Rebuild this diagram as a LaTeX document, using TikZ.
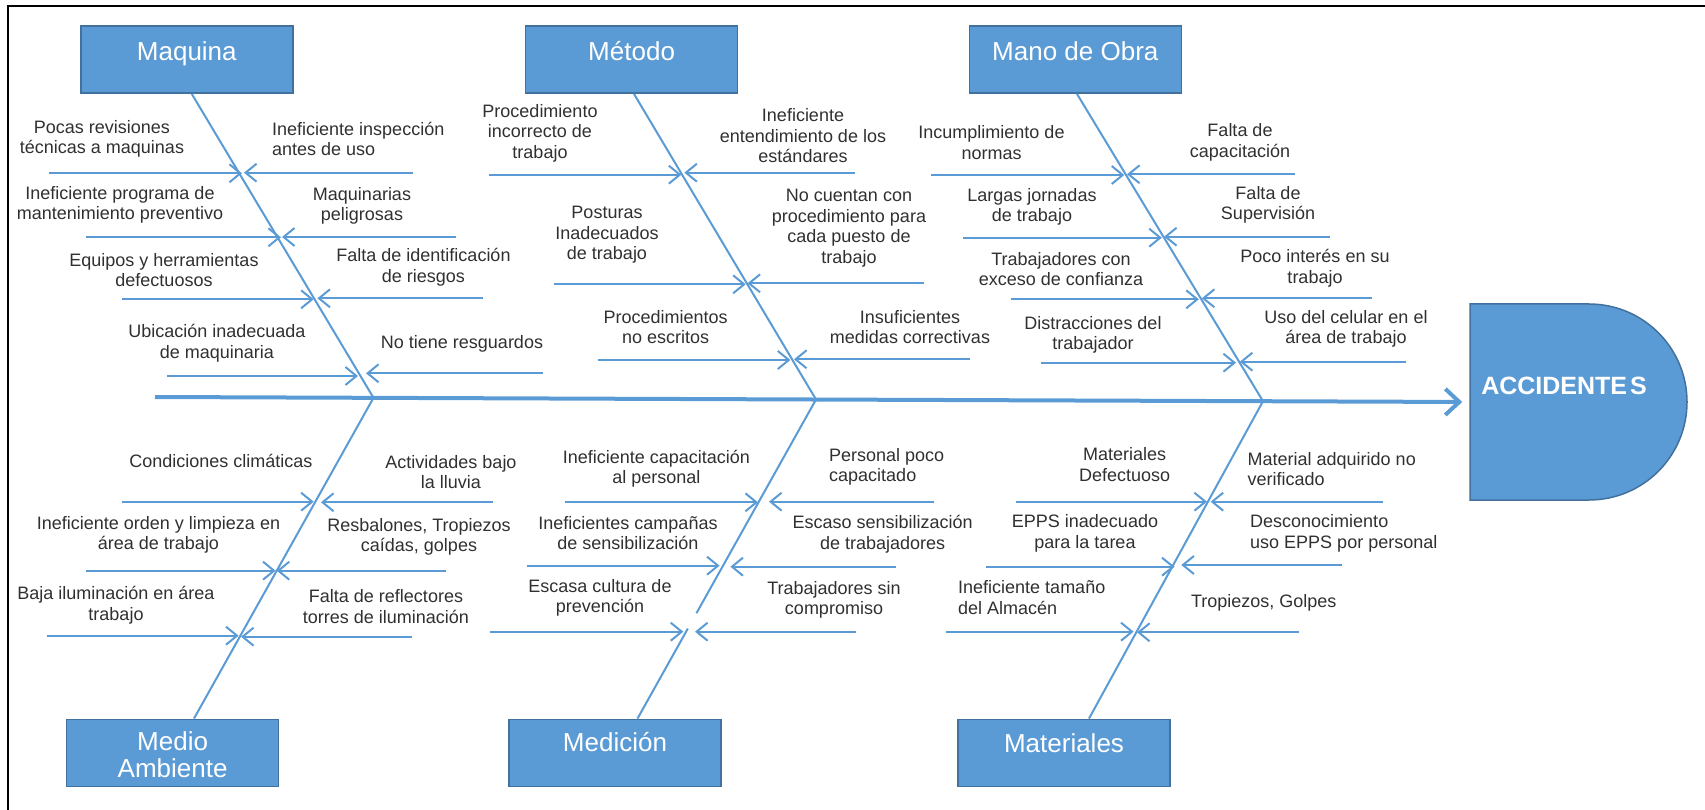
\documentclass[tikz,border=0pt]{standalone}
\usepackage{fontspec}
\setmainfont{Liberation Sans}
\usetikzlibrary{arrows.meta,shapes.misc,calc}
\definecolor{fb}{HTML}{5B9BD5}
\definecolor{fbd}{HTML}{41719C}
\definecolor{txt}{HTML}{303030}
\tikzset{
 catbox/.style={draw=fbd, fill=fb, line width=1.5pt, minimum width=212pt, minimum height=67pt, inner sep=0pt},
 cattitle/.style={text=white, font=\fontsize{26}{27}\selectfont, align=center, inner sep=0pt},
 lbl/.style={text=txt, font=\fontsize{18}{20.5}\selectfont, align=center, inner sep=0pt},
 lbll/.style={lbl, align=left, anchor=west},
 bone/.style={draw=fb, line width=2pt},
 sub/.style={draw=fb, line width=2pt, -{Straight Barb[length=11pt,width=18pt]}},
 spine/.style={draw=fb, line width=4pt, -{Straight Barb[length=14pt,width=26pt]}},
}
\newcommand{\subarr}[4]{\coordinate (#1a) at (#2,#4); \coordinate (#1b) at (#3,#4); \draw[sub] (#1a) -- (#1b);}
\begin{document}
\begin{tikzpicture}[x=1pt,y=-1pt]
\useasboundingbox (0,0) rectangle (1705,810);
\draw[line width=2.5pt] (8,810) -- (8,6) -- (1705,6);

% category boxes
\node[catbox] (maq) at (186.8,59.7) {};
\node[cattitle] (maqT) at (186.8,54) {Maquina};
\node[catbox] (met) at (631.6,59.7) {};
\node[cattitle] (metT) at (631.6,51.3) {Método};
\node[catbox] (mano) at (1075.3,59.7) {};
\node[cattitle] (manoT) at (1075.3,51.3) {Mano de Obra};
\node[catbox] (amb) at (172.6,752.8) {};
\node[cattitle] (ambT) at (172.6,755) {Medio\\Ambiente};
\node[catbox] (med) at (615,752.8) {};
\node[cattitle] (medT) at (615,742.5) {Medición};
\node[catbox] (mat) at (1064,752.8) {};
\node[cattitle] (matT) at (1064,743) {Materiales};

% effect
\node[rounded rectangle, rounded rectangle left arc=none, draw=fbd, fill=fb, line width=1.5pt,
      minimum width=217pt, minimum height=196pt, inner sep=0pt] (acc) at (1578.5,402) {};
\node[text=white, font=\bfseries\fontsize{25}{25}\selectfont, inner sep=0pt] (accT) at (1564,386) {ACCIDENTE\kern3pt S};

% spine
\coordinate (spL) at (155,397);
\coordinate (J1) at (373.5,397.8);
\coordinate (J2) at (816,399.5);
\coordinate (J3) at (1263,401.2);
\draw[spine, shorten >=7pt] (spL) -- (acc.west);

% bones
\coordinate (maqB) at ($(maq.south)+(5,0)$);
\coordinate (ambB) at ($(amb.north)+(21.4,0)$);
\coordinate (metB) at ($(met.south)+(2.4,0)$);
\coordinate (medB) at ($(med.north)+(22.5,0)$);
\coordinate (manoB) at ($(mano.south)+(1.7,0)$);
\coordinate (matB) at ($(mat.north)+(25,0)$);
\draw[bone] (maqB) -- (J1) -- (ambB);
\draw[bone] (metB) -- (J2) -- ($(J2)!0.670!(medB)$);
\draw[bone] ($(J2)!0.718!(medB)$) -- (medB);
\draw[bone] (manoB) -- (J3) -- (matB);

% Maquina causes
\subarr{q1l}{48.7}{242}{173.3}
\subarr{q1r}{412.5}{244}{172.7}
\subarr{q2l}{85.8}{281}{237.3}
\subarr{q2r}{455.8}{282}{237}
\subarr{q3l}{122}{313.7}{299.3}
\subarr{q3r}{482.8}{317.4}{298.3}
\subarr{q4l}{166.5}{358}{376}
\subarr{q4r}{543}{366}{373.3}
\node[lbl] (tq1) at (102,139) {Pocas revisiones\\técnicas a maquinas};
\node[lbll] (tq2) at (272,139) {Ineficiente inspección\\antes de uso};
\node[lbl] (tq3) at (120,205) {Ineficiente programa de\\mantenimiento preventivo};
\node[lbl] (tq4) at (362,206) {Maquinarias\\peligrosas};
\node[lbl] (tq5) at (164,270) {Equipos y herramientas\\defectuosos};
\node[lbl] (tq6) at (423.5,267) {Falta de identificación\\de riesgos};
\node[lbl] (tq7) at (217,343) {Ubicación inadecuada\\de maquinaria};
\node[lbl] (tq8) at (462,344) {No tiene resguardos};

% Metodo causes
\subarr{m1l}{489.3}{681.4}{174.7}
\subarr{m1r}{854.6}{684.3}{172.7}
\subarr{m2l}{553.6}{745.7}{284.3}
\subarr{m2r}{923.6}{747.5}{283.3}
\subarr{m3l}{597.5}{790.4}{360}
\subarr{m3r}{970}{794}{359.3}
\node[lbl] (tm1) at (540,133) {Procedimiento\\incorrecto de\\trabajo};
\node[lbl] (tm2) at (803,136) {Ineficiente\\entendimiento de los\\estándares};
\node[lbl] (tm3) at (607,235) {Posturas\\Inadecuados\\de trabajo};
\node[lbl] (tm4) at (849,228) {No cuentan con\\procedimiento para\\cada puesto de\\trabajo};
\node[lbl] (tm5) at (665.6,327) {Procedimientos\\no escritos};
\node[lbl] (tm6) at (910,327) {Insuficientes\\medidas correctivas};

% Mano de Obra causes
\subarr{o1l}{930.8}{1124.3}{175}
\subarr{o1r}{1295.3}{1127}{174.3}
\subarr{o2l}{963}{1161.8}{237.7}
\subarr{o2r}{1330}{1164}{236.7}
\subarr{o3l}{1011.4}{1198.8}{299.3}
\subarr{o3r}{1372}{1201.8}{298.3}
\subarr{o4l}{1041}{1236}{362.7}
\subarr{o4r}{1405.6}{1239.8}{361.7}
\node[lbl] (to1) at (991.5,142.5) {Incumplimiento de\\normas};
\node[lbl] (to2) at (1240,142.5) {Falta de\\capacitación};
\node[lbl] (to3) at (1032,207) {Largas jornadas\\de trabajo};
\node[lbl] (to4) at (1268,205) {Falta de\\Supervisión};
\node[lbl] (to5) at (1061,269) {Trabajadores con\\exceso de confianza};
\node[lbl] (to6) at (1315,268) {Poco interés en su\\trabajo};
\node[lbl] (to7) at (1093,335) {Distracciones del\\trabajador};
\node[lbl] (to8) at (1346,329) {Uso del celular en el\\área de trabajo};

% Medio Ambiente causes
\subarr{a1l}{122}{313.7}{501.7}
\subarr{a1r}{493}{321}{502.3}
\subarr{a2l}{85.8}{275.6}{570.7}
\subarr{a2r}{445.8}{276.7}{570.7}
\subarr{a3l}{47.4}{238.6}{635.7}
\subarr{a3r}{411.8}{241}{636.7}
\node[lbl] (ta1) at (221,461) {Condiciones climáticas};
\node[lbl] (ta2) at (451,472) {Actividades bajo\\la lluvia};
\node[lbl] (ta3) at (158.5,535) {Ineficiente orden y limpieza en\\área de trabajo};
\node[lbl] (ta4) at (419,536.7) {Resbalones, Tropiezos\\caídas, golpes};
\node[lbl] (ta5) at (116,605) {Baja iluminación en área\\trabajo};
\node[lbl] (ta6) at (386,606.7) {Falta de reflectores\\torres de iluminación};

% Medicion causes
\subarr{d1l}{564.6}{758}{502.3}
\subarr{d1r}{934}{769}{501.7}
\subarr{d2l}{526.8}{719.6}{565.7}
\subarr{d2r}{896.4}{730.4}{566.7}
\subarr{d3l}{490.4}{683.3}{631.7}
\subarr{d3r}{856.4}{695}{631.7}
\node[lbl] (td1) at (656.4,468.7) {Ineficiente capacitación\\al personal};
\node[lbll] (td2) at (829,467) {Personal poco\\capacitado};
\node[lbl] (td3) at (628,533.3) {Ineficientes campañas\\de sensibilización};
\node[lbl] (td4) at (882.7,534.3) {Escaso sensibilización\\de trabajadores};
\node[lbl] (td5) at (600,598) {Escasa cultura de\\prevención};
\node[lbl] (td6) at (834,600) {Trabajadores sin\\compromiso};

% Materiales causes
\subarr{t1l}{1015.5}{1207}{501.7}
\subarr{t1r}{1382.5}{1210.6}{501.7}
\subarr{t2l}{986}{1174.6}{566.7}
\subarr{t2r}{1341.5}{1181.3}{565}
\subarr{t3l}{946.2}{1133.6}{631.7}
\subarr{t3r}{1298.9}{1137}{632.3}
\node[lbl] (tt1) at (1124.6,464.5) {Materiales\\Defectuoso};
\node[lbll] (tt2) at (1247.5,469) {Material adquirido no\\verificado};
\node[lbl] (tt3) at (1085,533.3) {EPPS inadecuado\\para la tarea};
\node[lbll] (tt4) at (1250,533.3) {Desconocimiento\\uso EPPS por personal};
\node[lbll] (tt5) at (958,597.7) {Ineficiente tamaño\\del Almacén};
\node[lbl] (tt6) at (1263.7,602.7) {Tropiezos, Golpes};
\end{tikzpicture}
\end{document}
